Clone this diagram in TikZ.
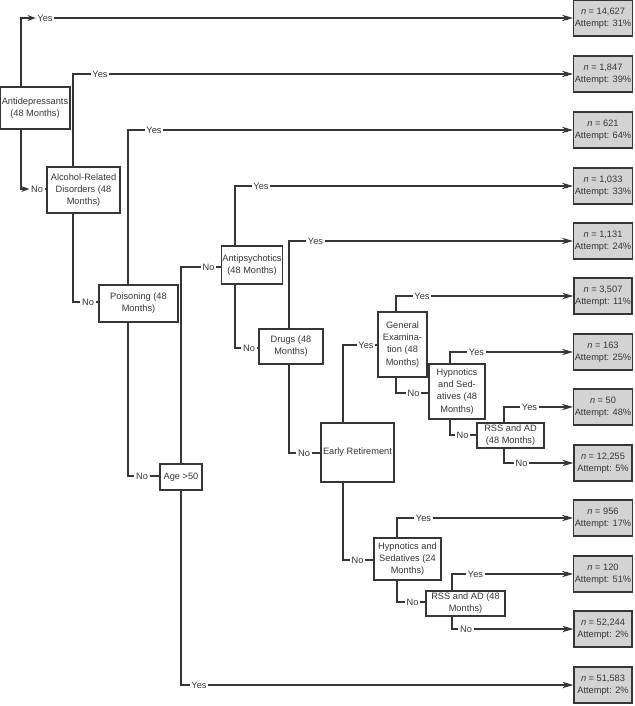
\documentclass[tikz,border=0pt]{standalone}
\usepackage{fontspec}
\setmainfont{Liberation Sans}
\usetikzlibrary{arrows.meta}
\definecolor{ln}{HTML}{363636}
\definecolor{leafgray}{HTML}{D3D3D3}
\tikzset{
  con/.style={draw=ln, line width=1pt},
  toleaf/.style={con, -{Stealth[length=9.5pt,width=5.5pt]}},
  tolbl/.style={con, -{Stealth[length=7pt,width=5pt]}},
  split/.style 2 args={draw=ln, line width=1pt, fill=white, text=ln, align=center, inner sep=1pt, minimum width=#1*0.03cm, minimum height=#2*0.03cm},
  leaf/.style={split={58}{36}, fill=leafgray},
  lbl/.style={fill=white, text=ln, inner sep=1.2pt},
}
\begin{document}
\begin{tikzpicture}[x=0.03cm,y=-0.03cm,font=\fontsize{7.9}{10.4}\selectfont]
\useasboundingbox (0,0) rectangle (634,706);
% outcomes
\node[leaf] (l1) at (603,18) {{\itshape n} = 14,627\\Attempt: 31\%};
\node[leaf] (l2) at (603,74) {{\itshape n} = 1,847\\Attempt: 39\%};
\node[leaf] (l3) at (603,130) {{\itshape n} = 621\\Attempt: 64\%};
\node[leaf] (l4) at (603,186) {{\itshape n} = 1,033\\Attempt: 33\%};
\node[leaf] (l5) at (603,241) {{\itshape n} = 1,131\\Attempt: 24\%};
\node[leaf] (l6) at (603,296) {{\itshape n} = 3,507\\Attempt: 11\%};
\node[leaf] (l7) at (603,352) {{\itshape n} = 163\\Attempt: 25\%};
\node[leaf] (l8) at (603,407) {{\itshape n} = 50\\Attempt: 48\%};
\node[leaf] (l9) at (603,463) {{\itshape n} = 12,255\\Attempt: 5\%};
\node[leaf] (l10) at (603,518) {{\itshape n} = 956\\Attempt: 17\%};
\node[leaf] (l11) at (603,574) {{\itshape n} = 120\\Attempt: 51\%};
\node[leaf] (l12) at (603,629) {{\itshape n} = 52,244\\Attempt: 2\%};
\node[leaf] (l13) at (603,685) {{\itshape n} = 51,583\\Attempt: 2\%};
% splits
\node[split={70}{42}] (ad) at (35,108) {Antidepressants\\(48 Months)};
\node[split={73}{46}] (alc) at (83.5,190) {Alcohol-Related\\Disorders (48\\Months)};
\node[split={79}{37}] (poi) at (138.5,303.5) {Poisoning (48\\Months)};
\node[split={42}{26}] (age) at (181,477) {Age >50};
\node[split={60}{38}] (aps) at (252,265) {Antipsychotics\\(48 Months)};
\node[split={64}{35}] (drg) at (291,346.5) {Drugs (48\\Months)};
\node[split={73}{59}] (er) at (357.5,452.5) {Early Retirement};
\node[split={49}{65}] (ge) at (402.5,344.5) {General\\Examina-\\tion (48\\Months)};
\node[split={56}{55}] (hs48) at (457,391.5) {Hypnotics\\and Sed-\\atives (48\\Months)};
\node[split={67}{25}] (rss1) at (510.5,435.5) {RSS and AD\\(48 Months)};
\node[split={67}{42}] (hs24) at (407.5,559) {Hypnotics and\\Sedatives (24\\Months)};
\node[split={79}{25}] (rss2) at (465.5,603.5) {RSS and AD (48\\Months)};
% branches
\node[lbl] (adY) at (45,18) {Yes}; \node[lbl] (adN) at (37,189) {No};
\draw[tolbl] (ad.north -| 21,0) |- (adY); \draw[toleaf] (adY) -- (l1);
\draw[tolbl] (ad.south -| 21,0) |- (adN); \draw[con] (adN) -- (adN -| alc.west);
\node[lbl] (alcY) at (100,74) {Yes}; \node[lbl] (alcN) at (88,302) {No};
\draw[con] (alc.north -| 73,0) |- (alcY); \draw[toleaf] (alcY) -- (l2);
\draw[con] (alc.south -| 73,0) |- (alcN); \draw[con] (alcN) -- (alcN -| poi.west);
\node[lbl] (poiY) at (154,130) {Yes}; \node[lbl] (poiN) at (142,476) {No};
\draw[con] (poi.north -| 128,0) |- (poiY); \draw[toleaf] (poiY) -- (l3);
\draw[con] (poi.south -| 128,0) |- (poiN); \draw[con] (poiN) -- (poiN -| age.west);
\node[lbl] (ageN) at (208.5,267) {No}; \node[lbl] (ageY) at (199,685) {Yes};
\draw[con] (age.north) |- (ageN); \draw[con] (ageN) -- (ageN -| aps.west);
\draw[con] (age.south) |- (ageY); \draw[toleaf] (ageY) -- (l13);
\node[lbl] (apsY) at (261,186) {Yes}; \node[lbl] (apsN) at (249,348) {No};
\draw[con] (aps.north -| 235,0) |- (apsY); \draw[toleaf] (apsY) -- (l4);
\draw[con] (aps.south -| 235,0) |- (apsN); \draw[con] (apsN) -- (apsN -| drg.west);
\node[lbl] (drgY) at (315.5,241) {Yes}; \node[lbl] (drgN) at (304,453) {No};
\draw[con] (drg.north -| 289,0) |- (drgY); \draw[toleaf] (drgY) -- (l5);
\draw[con] (drg.south -| 289,0) |- (drgN); \draw[con] (drgN) -- (drgN -| er.west);
\node[lbl] (erY) at (366,345) {Yes}; \node[lbl] (erN) at (357.5,560) {No};
\draw[con] (er.north -| 343,0) |- (erY); \draw[con] (erY) -- (erY -| ge.west);
\draw[con] (er.south -| 343,0) |- (erN); \draw[con] (erN) -- (erN -| hs24.west);
\node[lbl] (geY) at (422,296) {Yes}; \node[lbl] (geN) at (413.5,393) {No};
\draw[con] (ge.north -| 396,0) |- (geY); \draw[toleaf] (geY) -- (l6);
\draw[con] (ge.south -| 396,0) |- (geN); \draw[con] (geN) -- (geN -| hs48.west);
\node[lbl] (hs48Y) at (476.5,352) {Yes}; \node[lbl] (hs48N) at (462.5,435) {No};
\draw[con] (hs48.north -| 450,0) |- (hs48Y); \draw[toleaf] (hs48Y) -- (l7);
\draw[con] (hs48.south -| 450,0) |- (hs48N); \draw[con] (hs48N) -- (hs48N -| rss1.west);
\node[lbl] (rss1Y) at (529.5,407) {Yes}; \node[lbl] (rss1N) at (521.5,463) {No};
\draw[con] (rss1.north -| 504,0) |- (rss1Y); \draw[toleaf] (rss1Y) -- (l8);
\draw[con] (rss1.south -| 504,0) |- (rss1N); \draw[toleaf] (rss1N) -- (l9);
\node[lbl] (hs24Y) at (423.5,518) {Yes}; \node[lbl] (hs24N) at (412.5,602) {No};
\draw[con] (hs24.north -| 397,0) |- (hs24Y); \draw[toleaf] (hs24Y) -- (l10);
\draw[con] (hs24.south -| 397,0) |- (hs24N); \draw[con] (hs24N) -- (hs24N -| rss2.west);
\node[lbl] (rss2Y) at (475.5,574) {Yes}; \node[lbl] (rss2N) at (466,629) {No};
\draw[con] (rss2.north -| 452,0) |- (rss2Y); \draw[toleaf] (rss2Y) -- (l11);
\draw[con] (rss2.south -| 452,0) |- (rss2N); \draw[toleaf] (rss2N) -- (l12);
\end{tikzpicture}
\end{document}
